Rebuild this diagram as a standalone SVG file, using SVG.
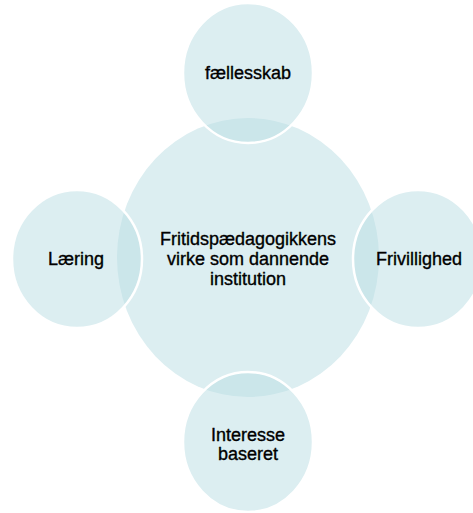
<svg xmlns="http://www.w3.org/2000/svg" width="473" height="513" viewBox="0 0 473 513">
<style>
.main{fill:#DCEEF1;}
.sat{fill:#BBDEE4;fill-opacity:0.51;stroke:#FFFFFF;stroke-width:2.5;}
.lbl{font-family:"Liberation Sans",Arial,sans-serif;font-size:18px;fill:#000000;stroke:#000000;stroke-width:0.35;text-anchor:middle;}
</style>
<rect width="473" height="513" fill="#FFFFFF"/>
<g id="center">
<ellipse class="main" cx="248" cy="257.5" rx="131" ry="139.5"/>
<text class="lbl"><tspan x="248" y="245">Fritidspædagogikkens</tspan><tspan x="248" y="265">virke som dannende</tspan><tspan x="248" y="285">institution</tspan></text>
</g>
<g id="top">
<ellipse class="sat" cx="248" cy="73" rx="65" ry="70"/>
<text class="lbl" x="248" y="79">fællesskab</text>
</g>
<g id="left">
<ellipse class="sat" cx="77" cy="259" rx="65" ry="69"/>
<text class="lbl" x="76" y="265">Læring</text>
</g>
<g id="right">
<ellipse class="sat" cx="418" cy="259" rx="65" ry="69"/>
<text class="lbl" x="419" y="265">Frivillighed</text>
</g>
<g id="bottom">
<ellipse class="sat" cx="248" cy="442" rx="65" ry="70"/>
<text class="lbl"><tspan x="248" y="441">Interesse</tspan><tspan x="248" y="460">baseret</tspan></text>
</g>
<g id="connectors"></g>
</svg>
